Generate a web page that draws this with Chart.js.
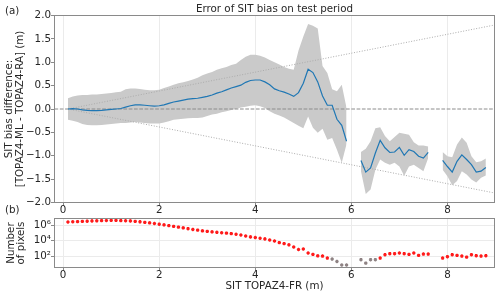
<!DOCTYPE html>
<html>
<head>
<meta charset="utf-8">
<script src="https://cdn.jsdelivr.net/npm/chart.js@4/dist/chart.umd.min.js"></script>
<style>
html,body{margin:0;padding:0;background:#fff;}
#wrap{position:relative;width:500px;height:296px;overflow:hidden;}
canvas{position:absolute;left:0;}
.lab{position:absolute;font-family:"DejaVu Sans";font-size:10.3px;line-height:10px;color:#262626;white-space:nowrap;}
</style>
</head>
<body>
<div id="wrap">
<canvas id="c1" width="500" height="218" style="top:0;width:500px;height:218px"></canvas>
<canvas id="c2" width="500" height="86" style="top:210px;width:500px;height:86px"></canvas>
<div class="lab" style="left:5px;top:5px">(a)</div>
<div class="lab" style="left:5px;top:204px">(b)</div>
</div>
<script>
// ---- data ----
const sitBins = [0.1,0.2,0.3,0.4,0.5,0.6,0.7,0.8,0.9,1.0,1.1,1.2,1.3,1.4,1.5,1.6,1.7,1.8,1.9,2.0,
  2.1,2.2,2.3,2.4,2.5,2.6,2.7,2.8,2.9,3.0,3.1,3.2,3.3,3.4,3.5,3.6,3.7,3.8,3.9,4.0,
  4.1,4.2,4.3,4.4,4.5,4.6,4.7,4.8,4.9,5.0,5.1,5.2,5.3,5.4,5.5,5.6,5.7,5.8,5.9,6.0,
  6.1,6.2,6.3,6.4,6.5,6.6,6.7,6.8,6.9,7.0,7.1,7.2,7.3,7.4,7.5,7.6,7.7,7.8,7.9,8.0,
  8.1,8.2,8.3,8.4,8.5,8.6,8.7,8.8];
const biasMean = [0.00,0.01,0.00,-0.02,-0.03,-0.035,-0.035,-0.03,-0.02,-0.01,
  0.00,0.01,0.04,0.07,0.09,0.09,0.08,0.07,0.06,0.07,
  0.09,0.12,0.15,0.17,0.19,0.21,0.22,0.23,0.25,0.27,
  0.30,0.34,0.37,0.41,0.45,0.48,0.51,0.57,0.61,0.62,
  0.62,0.58,0.52,0.43,0.39,0.36,0.32,0.27,0.35,0.55,
  0.85,0.78,0.58,0.28,0.08,0.08,-0.22,-0.35,-0.69,null,
  null,-1.10,-1.35,-1.26,-0.94,-0.67,-0.83,-0.93,-0.92,-0.82,
  -0.99,-0.87,-0.91,-1.01,-1.05,-0.93,null,null,-1.10,-1.23,
  -1.35,-1.12,-0.98,-1.08,-1.19,-1.35,-1.33,-1.25];
const biasUpper = [0.23,0.27,0.29,0.30,0.30,0.31,0.31,0.32,0.33,0.34,
  0.36,0.37,0.42,0.44,0.44,0.43,0.41,0.40,0.40,0.41,
  0.45,0.48,0.52,0.55,0.57,0.60,0.63,0.67,0.72,0.76,
  0.79,0.84,0.87,0.90,0.94,0.97,1.05,1.12,1.16,1.16,
  1.14,1.10,1.05,1.00,0.95,0.90,0.86,0.84,1.25,1.55,
  1.82,1.78,1.72,0.92,0.77,0.42,0.38,0.52,0.02,null,
  null,-0.92,-0.85,-0.69,-0.41,-0.39,-0.58,-0.69,-0.60,-0.51,
  -0.53,-0.55,-0.71,-0.78,-0.78,-0.80,null,null,-0.92,-1.01,
  -1.03,-0.76,-0.61,-0.72,-1.01,-1.14,-1.12,-1.06];
const biasLower = [-0.23,-0.25,-0.28,-0.32,-0.34,-0.35,-0.35,-0.34,-0.33,-0.32,
  -0.31,-0.30,-0.30,-0.29,-0.28,-0.29,-0.30,-0.31,-0.31,-0.31,
  -0.29,-0.26,-0.23,-0.22,-0.21,-0.20,-0.19,-0.19,-0.18,-0.15,
  -0.12,-0.10,-0.07,-0.05,-0.02,0.00,0.03,0.05,0.07,0.08,
  0.06,0.02,-0.05,-0.10,-0.14,-0.18,-0.24,-0.30,-0.36,-0.41,
  -0.16,-0.40,-0.51,-0.42,-0.66,-0.62,-0.87,-1.15,-0.75,null,
  null,-1.33,-1.82,-1.72,-1.30,-1.08,-1.15,-1.19,-1.15,-1.23,
  -1.43,-1.23,-1.19,-1.26,-1.33,-1.05,null,null,-1.30,-1.44,
  -1.63,-1.54,-1.33,-1.40,-1.51,-1.57,-1.47,-1.42];
const pixelCount = [2630000,2820000,2950000,3160000,3310000,3550000,3720000,3980000,4070000,4170000,
  4170000,3980000,3800000,3550000,3160000,2750000,2340000,2000000,1660000,1350000,
  1100000,891000,708000,562000,447000,355000,282000,229000,186000,158000,
  138000,120000,105000,93300,81300,67600,53700,39800,30200,25100,
  20400,16600,12000,8910,5500,4070,2880,1510,708,832,
  251,166,105,100,55,41,20,7,7,null,
  null,34,12,34,34,55,151,204,204,251,
  204,166,251,123,182,182,null,null,55,83,
  151,123,100,74,151,112,100,112];
const xTicks = [0,2,4,6,8];
const xLimits = [-0.18, 8.98];
const biasTicks = [-2.0,-1.5,-1.0,-0.5,0.0,0.5,1.0,1.5,2.0];
const biasLimits = [-2, 2];
const countTicks = [1e2,1e4,1e6];
const countLimits = [3.3, 7.4e6];
const guideX = [0.1, 9.0];
const guideUp = [0, 1.8];
const guideDown = [0, -1.8];
const lowCountThreshold = 50;

// ---- styling ----
const FONT = 'DejaVu Sans';
const FS = 10.3;
const TXT = '#262626';
const SPINE = '#8a8a8a';
const GRID = '#ebebeb';
Chart.defaults.font.family = FONT;
Chart.defaults.font.size = FS;
Chart.defaults.color = TXT;

const pts = ys => sitBins.map((x, i) => ({x: x, y: ys[i]}));
const minus = s => s.replace('-', '\u2212');
const sup = {'0':'\u2070','1':'\u00b9','2':'\u00b2','3':'\u00b3','4':'\u2074','5':'\u2075','6':'\u2076','7':'\u2077','8':'\u2078','9':'\u2079'};
const pow10 = v => '10' + String(Math.round(Math.log10(v))).split('').map(c => sup[c]).join('');

const frame = {
  id: 'frame',
  afterDatasetsDraw(chart) {
    const {ctx, chartArea: a} = chart;
    ctx.save();
    ctx.strokeStyle = SPINE;
    ctx.lineWidth = 1;
    ctx.strokeRect(a.left, a.top, a.right - a.left, a.bottom - a.top);
    ctx.restore();
  }
};

function xScale(height, title) {
  return {
    type: 'linear',
    min: xLimits[0], max: xLimits[1],
    afterBuildTicks: s => { s.ticks = xTicks.map(v => ({value: v})); },
    ticks: {autoSkip: false, maxRotation: 0, padding: -0.5, color: TXT,
            font: {size: FS, lineHeight: 1.0}, callback: v => String(v)},
    grid: {color: GRID, lineWidth: 1, tickColor: SPINE, tickLength: 3.5, drawOnChartArea: true},
    border: {color: SPINE, width: 1},
    title: title,
    afterFit: s => { s.height = height; s.paddingLeft = 0; s.paddingRight = 0; }
  };
}

// ---- chart (a) ----
new Chart(document.getElementById('c1'), {
  type: 'line',
  data: {
    datasets: [
      {label: 'mean', data: pts(biasMean), borderColor: '#1f77b4', borderWidth: 1.2,
       pointRadius: 0, fill: false, spanGaps: false, order: 0},
      {label: 'guideUp', data: guideX.map((x, i) => ({x: x, y: guideUp[i]})), borderColor: '#ababab',
       borderWidth: 1, borderDash: [1, 1.65], pointRadius: 0, fill: false, order: 1},
      {label: 'guideDown', data: guideX.map((x, i) => ({x: x, y: guideDown[i]})), borderColor: '#ababab',
       borderWidth: 1, borderDash: [1, 1.65], pointRadius: 0, fill: false, order: 1},
      {label: 'zero', data: xLimits.map(x => ({x: x, y: 0})), borderColor: '#8c8c8c',
       borderWidth: 1, borderDash: [3.7, 1.6], pointRadius: 0, fill: false, order: 1},
      {label: 'upper', data: pts(biasUpper), borderWidth: 0, borderColor: 'rgba(0,0,0,0)',
       backgroundColor: '#cacaca', pointRadius: 0, fill: '+1', spanGaps: false, order: 2},
      {label: 'lower', data: pts(biasLower), borderWidth: 0, borderColor: 'rgba(0,0,0,0)',
       pointRadius: 0, fill: false, spanGaps: false, order: 2}
    ]
  },
  options: {
    responsive: false, animation: false,
    layout: {padding: {top: 0, right: 5.5, left: 0, bottom: 0}},
    plugins: {
      legend: {display: false}, tooltip: {enabled: false},
      title: {display: true, text: 'Error of SIT bias on test period', fullSize: false,
              color: TXT, font: {size: FS, weight: 'normal', lineHeight: 1.0},
              padding: {top: 4.2, bottom: 1.0}}
    },
    scales: {
      x: xScale(15.5, {display: false}),
      y: {
        min: biasLimits[0], max: biasLimits[1],
        afterBuildTicks: s => { s.ticks = biasTicks.map(v => ({value: v})); },
        ticks: {padding: 0, color: TXT, font: {size: FS, lineHeight: 1.0},
                callback: v => minus(Number(v).toFixed(1))},
        grid: {drawOnChartArea: false, tickColor: SPINE, tickLength: 3.5},
        border: {color: SPINE, width: 1},
        title: {display: true, text: ['SIT bias difference:', '[TOPAZ4-ML - TOPAZ4-RA] (m)'],
                color: TXT, font: {size: FS, lineHeight: 1.02}, padding: {top: 4.3, bottom: 0}},
        afterFit: s => { s.width = 54.5; s.paddingTop = 0; s.paddingBottom = 0; }
      }
    }
  },
  plugins: [frame]
});

// ---- chart (b) ----
new Chart(document.getElementById('c2'), {
  type: 'line',
  data: {
    datasets: [{
      label: 'count', data: pts(pixelCount), showLine: false,
      pointStyle: 'star', pointRadius: 1.7, pointBorderWidth: 1.1,
      pointBorderColor: pixelCount.map(c => (c !== null && c < lowCountThreshold) ? '#8e8283' : '#ff1a1a'),
      pointBackgroundColor: pixelCount.map(c => (c !== null && c < lowCountThreshold) ? '#8e8283' : '#ff1a1a')
    }]
  },
  options: {
    responsive: false, animation: false,
    layout: {padding: {top: 8.5, right: 5.5, left: 0, bottom: 0}},
    plugins: {legend: {display: false}, tooltip: {enabled: false}},
    scales: {
      x: xScale(28.5, {display: true, text: 'SIT TOPAZ4-FR (m)', color: TXT,
                       font: {size: FS, lineHeight: 1.0}, padding: {top: 0, bottom: 5}}),
      y: {
        type: 'logarithmic',
        min: countLimits[0], max: countLimits[1],
        afterBuildTicks: s => { s.ticks = countTicks.map(v => ({value: v})); },
        ticks: {padding: 0, color: TXT, font: {size: FS, lineHeight: 1.0}, callback: v => pow10(v)},
        grid: {color: GRID, drawOnChartArea: true, tickColor: SPINE, tickLength: 3.5},
        border: {color: SPINE, width: 1},
        title: {display: true, text: ['Number', 'of pixels'], color: TXT,
                font: {size: FS, lineHeight: 1.0}, padding: {top: 6.3, bottom: 0}},
        afterFit: s => { s.width = 54.5; s.paddingTop = 0; s.paddingBottom = 0; }
      }
    }
  },
  plugins: [frame]
});
</script>
</body>
</html>
